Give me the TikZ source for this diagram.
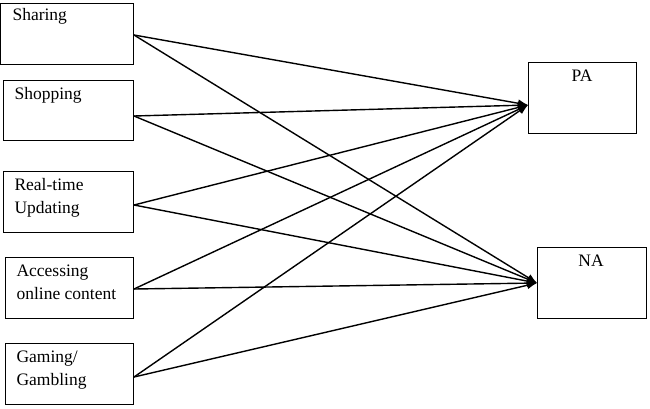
\documentclass[tikz,border=0pt]{standalone}
\usepackage{fontspec}
\setmainfont{Liberation Serif}
\usetikzlibrary{arrows.meta}
\begin{document}
\begin{tikzpicture}[x=1pt,y=-1pt,
  box/.style={draw,line width=1.3pt,inner sep=0pt},
  lbl/.style={anchor=north west,font=\fontsize{17.5}{23}\selectfont,align=left},
  rlbl/.style={anchor=north,font=\fontsize{17.5}{23}\selectfont},
  conn/.style={line width=1.4pt,-{Latex[length=10pt,width=8pt]}}]
\useasboundingbox (0,0) rectangle (650,408);
\node[box,minimum width=133pt,minimum height=61pt,anchor=north west] (s) at (0,3) {};
\node[box,minimum width=130pt,minimum height=60pt,anchor=north west] (sh) at (3,80) {};
\node[box,minimum width=130pt,minimum height=61pt,anchor=north west] (r) at (3,171) {};
\node[box,minimum width=128pt,minimum height=61pt,anchor=north west] (a) at (5,257) {};
\node[box,minimum width=128pt,minimum height=61pt,anchor=north west] (g) at (5,343) {};
\node[box,minimum width=108pt,minimum height=71pt,anchor=north west] (pa) at (528,62) {};
\node[box,minimum width=109pt,minimum height=71pt,anchor=north west] (na) at (537,247) {};
\node[lbl] (t1) at (9,5) {Sharing};
\node[lbl] (t2) at (11,84) {Shopping};
\node[lbl] (t3) at (11,175) {Real-time\\Updating};
\node[lbl] (t4) at (13,261) {Accessing\\online content};
\node[lbl] (t5) at (13,347) {Gaming/\\Gambling};
\node[rlbl] (t6) at (582,66) {PA};
\node[rlbl] (t7) at (591,251) {NA};
\coordinate (ps) at (134,35);
\coordinate (psh) at (134,116);
\coordinate (pr) at (134,205);
\coordinate (pac) at (134,289);
\coordinate (pg) at (134,377);
\coordinate (tpa) at (528,105);
\coordinate (tna) at (537,283);
\foreach \c in {ps,psh,pr,pac,pg}{
  \draw[conn] (\c) -- (tpa);
  \draw[conn] (\c) -- (tna);
}
\end{tikzpicture}
\end{document}
